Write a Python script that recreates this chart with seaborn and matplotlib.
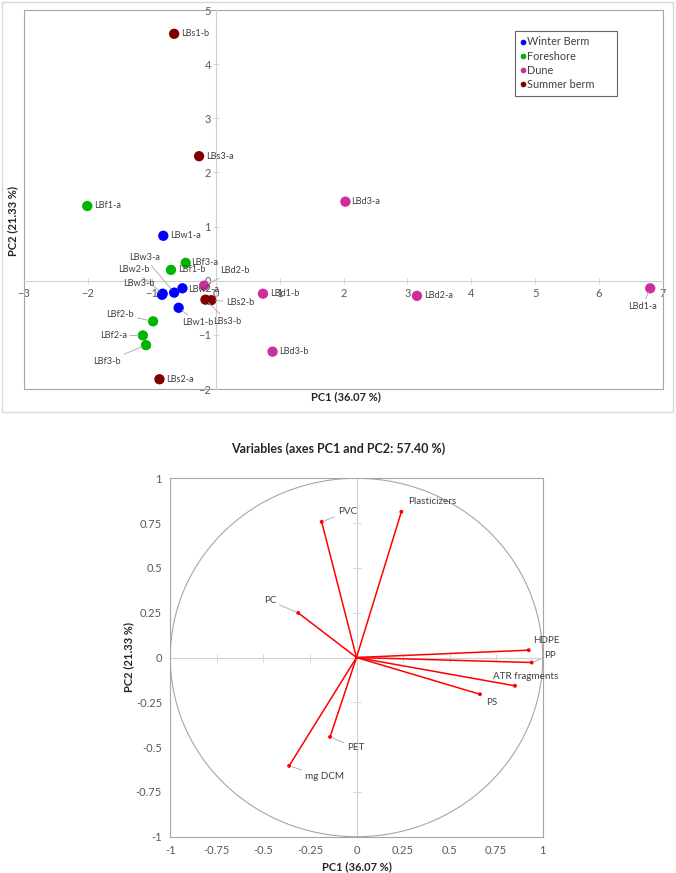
import numpy as np
import pandas as pd
import matplotlib
matplotlib.use("Agg")
import matplotlib.pyplot as plt
from matplotlib.patches import Rectangle, Circle
import seaborn as sns

# ---- observations (PCA scores) ----
sample_labels = ['LBw1-a', 'LBw1-b', 'LBw2-a', 'LBw2-b', 'LBw3-a', 'LBw3-b',
                 'LBf1-a', 'LBf1-b', 'LBf2-a', 'LBf2-b', 'LBf3-a', 'LBf3-b',
                 'LBd1-a', 'LBd1-b', 'LBd2-a', 'LBd2-b', 'LBd3-a', 'LBd3-b',
                 'LBs1-b', 'LBs2-a', 'LBs2-b', 'LBs3-a', 'LBs3-b']
sample_groups = ['Winter Berm'] * 6 + ['Foreshore'] * 6 + ['Dune'] * 6 + ['Summer berm'] * 5
pc1_scores = [-0.82, -0.58, -0.52, -0.83, -0.65, -0.84,
              -2.01, -0.70, -1.14, -0.98, -0.47, -1.09,
              6.80, 0.74, 3.15, -0.18, 2.03, 0.89,
              -0.65, -0.88, -0.07, -0.26, -0.16]
pc2_scores = [0.83, -0.50, -0.14, -0.24, -0.22, -0.26,
              1.38, 0.20, -1.01, -0.75, 0.33, -1.19,
              -0.14, -0.24, -0.28, -0.09, 1.46, -1.31,
              4.56, -1.82, -0.36, 2.30, -0.35]
group_order = ['Winter Berm', 'Foreshore', 'Dune', 'Summer berm']

# ---- variables (loadings) ----
variables = ['PVC', 'PC', 'Plasticizers', 'HDPE', 'PP', 'ATR fragments', 'PS', 'PET', 'mg DCM']
var_pc1 = [-0.187, -0.313, 0.241, 0.925, 0.941, 0.851, 0.663, -0.142, -0.362]
var_pc2 = [0.757, 0.249, 0.813, 0.041, -0.028, -0.158, -0.205, -0.443, -0.605]

pc1_title = 'PC1 (36.07 %)'
pc2_title = 'PC2 (21.33 %)'
var_title = 'Variables (axes PC1 and PC2: 57.40 %)'

colors = {'Winter Berm': '#0000FF', 'Foreshore': '#00B400',
          'Dune': '#CC2E9E', 'Summer berm': '#800000'}

# label placement (pixel offsets, alignment, leader line)
score_label_pos = {
    'LBs1-b': (7, 0, 'left', False), 'LBs3-a': (7, 0, 'left', False),
    'LBf1-a': (7, 0, 'left', False), 'LBw1-a': (7, 0, 'left', False),
    'LBf3-a': (5, 0, 'left', False), 'LBf1-b': (7, 0, 'left', False),
    'LBd2-b': (16, 15, 'left', True), 'LBw2-a': (6, -1, 'left', False),
    'LBw3-a': (-14, 35, 'right', True), 'LBw2-b': (-13, 24, 'right', True),
    'LBw3-b': (-7, 11, 'right', True), 'LBw1-b': (19, -15, 'center', True),
    'LBs2-b': (15, -2, 'left', True), 'LBs3-b': (8, -22, 'left', True),
    'LBd1-b': (7, 0, 'left', False), 'LBf2-b': (-19, 7, 'right', True),
    'LBf2-a': (-16, 0, 'right', True), 'LBf3-b': (-25, -16, 'right', True),
    'LBd3-b': (7, 0, 'left', False), 'LBs2-a': (7, 0, 'left', False),
    'LBd3-a': (6, 0, 'left', False), 'LBd2-a': (7, 0, 'left', False),
    'LBd1-a': (-8, -18, 'center', True),
}
var_label_pos = {
    'PVC': (16, 10, 'left', True), 'PC': (-22, 12, 'right', True),
    'Plasticizers': (7, 10, 'left', False), 'HDPE': (4, 10, 'left', False),
    'PP': (12, 7, 'left', True), 'ATR fragments': (-22, 9, 'left', False),
    'PS': (6, -8, 'left', False), 'PET': (17, -11, 'left', True),
    'mg DCM': (16, -11, 'left', True),
}

sns.set_style('white')
plt.rcParams['font.family'] = ['Lato', 'DejaVu Sans']

W, H = 676, 873
fig = plt.figure(figsize=(W / 100, H / 100), dpi=100)
tick_col = '#595959'
txt_col = '#404040'
axis_col = '#D0D0D0'


def fx(px):
    return px / W


def fy(py):
    return 1 - py / H


# outer frame of the top chart
fig.patches.append(Rectangle((fx(2), fy(412)), fx(671), 410 / H, transform=fig.transFigure,
                             fill=False, edgecolor='#D9D9D9', lw=1))

# ================= top: observations =================
ax1 = fig.add_axes([fx(24), fy(389), fx(663 - 24), (389 - 10) / H])
df = pd.DataFrame({'PC1': pc1_scores, 'PC2': pc2_scores,
                   'group': sample_groups, 'label': sample_labels})
sns.scatterplot(data=df, x='PC1', y='PC2', hue='group', hue_order=group_order,
                palette=colors, s=55, edgecolor='none', ax=ax1, zorder=3)
ax1.set_xlim(-3, 7)
ax1.set_ylim(-2, 5)
ax1.set_xticks(np.arange(-3, 8, 1))
ax1.set_yticks(np.arange(-2, 6, 1))
ax1.set_xlabel('')
ax1.set_ylabel('')
# axes cross at zero, plot-area border drawn separately
ax1.spines['left'].set_position(('data', 0))
ax1.spines['bottom'].set_position(('data', 0))
ax1.spines['top'].set_visible(False)
ax1.spines['right'].set_visible(False)
for side in ['left', 'bottom']:
    ax1.spines[side].set_color(axis_col)
    ax1.spines[side].set_linewidth(0.8)
    ax1.spines[side].set_zorder(1)
ax1.tick_params(axis='x', direction='inout', length=4, width=0.6, color=axis_col,
                labelsize=8, labelcolor=tick_col, pad=3, bottom=True)
ax1.tick_params(axis='y', direction='inout', length=4, width=0.6, color=axis_col,
                labelsize=8, labelcolor=tick_col, pad=1.5, left=True)
ax1.add_patch(Rectangle((0, 0), 1, 1, transform=ax1.transAxes, fill=False,
                        edgecolor='#A6A6A6', lw=0.8, clip_on=False))

for lab, x, y in zip(sample_labels, pc1_scores, pc2_scores):
    dx, dy, ha, leader = score_label_pos[lab]
    props = dict(arrowstyle='-', color='#A6A6A6', lw=0.6, shrinkA=0, shrinkB=3) if leader else None
    ax1.annotate(lab, (x, y), xytext=(dx, dy), textcoords='offset pixels',
                 ha=ha, va='center', fontsize=6.6, color=txt_col, arrowprops=props, zorder=4)

handles, labels = ax1.get_legend_handles_labels()
leg = ax1.legend(handles, labels, loc='upper left', mode='expand',
                 bbox_to_anchor=(fx(515), fy(94), fx(102), 63 / H),
                 bbox_transform=fig.transFigure,
                 fontsize=7.8, markerscale=0.55, handlelength=0.5, handletextpad=0.15,
                 labelspacing=0.3, borderpad=0.5, borderaxespad=0, fancybox=False,
                 frameon=True)
leg.get_frame().set_edgecolor('#404040')
leg.get_frame().set_linewidth(0.8)
for t in leg.get_texts():
    t.set_color(txt_col)

fig.text(fx(346), fy(397), pc1_title, ha='center', va='center',
         fontsize=8, fontweight='bold', color='#262626')
fig.text(fx(13), fy(221), pc2_title, ha='center', va='center', rotation=90,
         fontsize=8, fontweight='bold', color='#262626')

# ================= bottom: variables =================
ax2 = fig.add_axes([fx(170.3), fy(836.7), fx(542.7 - 170.3), (836.7 - 478.3) / H])
ax2.set_xlim(-1, 1)
ax2.set_ylim(-1, 1)
ax2.add_patch(Circle((0, 0), 1, fill=False, edgecolor='#A6A6A6', lw=0.8))
ticks = np.arange(-1, 1.01, 0.25)
ax2.set_xticks(ticks)
ax2.set_yticks(ticks)
ax2.set_xticklabels([f'{v:g}' for v in ticks])
ax2.set_yticklabels([f'{v:g}' for v in ticks])
ax2.tick_params(length=0, labelsize=8, labelcolor=tick_col, pad=6)
for sp in ax2.spines.values():
    sp.set_color('#A6A6A6')
    sp.set_linewidth(0.8)

zx = ax2.secondary_xaxis(0.5)
zx.set_xticks(ticks)
zx.set_alignment('bottom')
zx.tick_params(direction='inout', length=6, width=0.6, color=axis_col,
               labelbottom=False, labeltop=False)
zx.spines['bottom'].set_color(axis_col)
zx.spines['bottom'].set_linewidth(0.8)
zy = ax2.secondary_yaxis(0.5)
zy.set_yticks(ticks)
zy.set_alignment('left')
zy.tick_params(direction='inout', length=6, width=0.6, color=axis_col,
               labelleft=False, labelright=False)
zy.spines['left'].set_color(axis_col)
zy.spines['left'].set_linewidth(0.8)

for x, y in zip(var_pc1, var_pc2):
    ax2.plot([0, x], [0, y], color='#FF0000', lw=1.1, zorder=3)
sns.scatterplot(x=var_pc1, y=var_pc2, color='#FF0000', s=8, edgecolor='none', ax=ax2, zorder=4)

for lab, x, y in zip(variables, var_pc1, var_pc2):
    dx, dy, ha, leader = var_label_pos[lab]
    props = dict(arrowstyle='-', color='#A6A6A6', lw=0.6, shrinkA=0, shrinkB=2) if leader else None
    ax2.annotate(lab, (x, y), xytext=(dx, dy), textcoords='offset pixels',
                 ha=ha, va='center', fontsize=7.1, color=txt_col, arrowprops=props, zorder=5)

fig.text(fx(338), fy(449), var_title, ha='center', va='center',
         fontsize=9, fontweight='bold', color='#262626')
fig.text(fx(357), fy(866.7), pc1_title, ha='center', va='center',
         fontsize=8, fontweight='bold', color='#262626')
fig.text(fx(129), fy(657), pc2_title, ha='center', va='center', rotation=90,
         fontsize=8, fontweight='bold', color='#262626')

fig.savefig('out.png', dpi=100)
